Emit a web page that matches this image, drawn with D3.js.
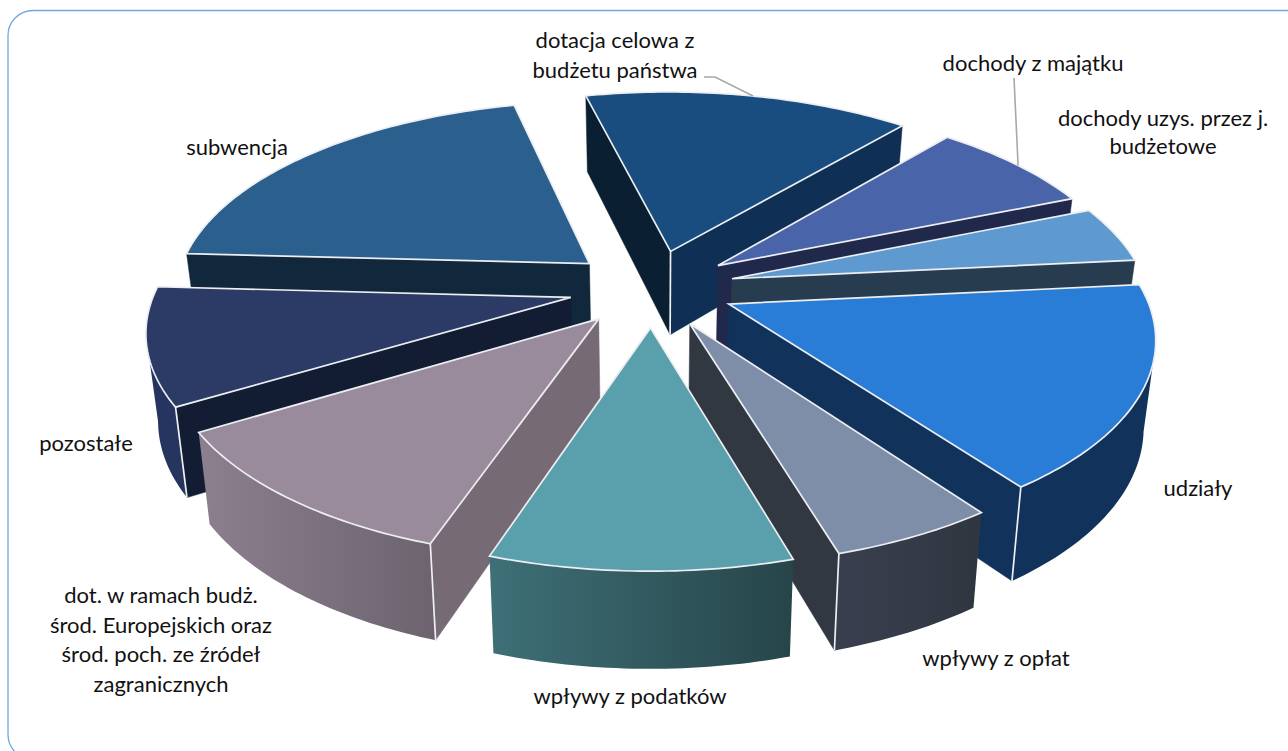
<!DOCTYPE html>
<html>
<head>
<meta charset="utf-8">
<script src="https://cdn.jsdelivr.net/npm/d3@7"></script>
<style>
  html, body { margin: 0; padding: 0; background: #fff; overflow: hidden; }
  text { font-family: Lato, "Open Sans", sans-serif; font-size: 22px; fill: #111; text-anchor: middle; }
</style>
</head>
<body>
<svg id="chart" width="1288" height="751"></svg>
<script>
// udział w dochodach, %, clockwise from dotacja
const categories = ['dotacja', 'majatek', 'jednostki', 'udzialy', 'oplaty', 'podatki', 'srodkiUE', 'pozostale', 'subwencja'];
const values = [14.9, 7.7, 4.6, 16.6, 5.4, 9.8, 11.2, 9.5, 20.4];

const labelLines = [
    ['dotacja celowa z', 'budżetu państwa'],
    ['dochody z majątku'],
    ['dochody uzys. przez j.', 'budżetowe'],
    ['udziały'],
    ['wpływy z opłat'],
    ['wpływy z podatków'],
    ['dot. w ramach budż.', 'środ. Europejskich oraz', 'środ. poch. ze źródeł', 'zagranicznych'],
    ['pozostałe'],
    ['subwencja']
];

// styles per slice: top, start wall, end wall, outer wall gradient left/right
const topColors = ['#194c7f', '#4964a8', '#5e9ad0', '#2a7dd6', '#7f8ea8', '#5a9fac', '#9a8b9c', '#2b3b66', '#2a5f8e'];
const startWall = ['#0a2032', '#20284b', '#283c50', '#11325a', '#323842', '#264549', '#766a75', '#121d33', '#11283c'];
const endWall = ['#0f3054', '#20284b', '#283c50', '#11325a', '#323842', '#264549', '#766a75', '#121d33', '#11283c'];
const outerLeft = ['#0f3054', '#20284b', '#283c50', '#11325a', '#3a3f50', '#3e7077', '#8c7f8e', '#25355f', '#11283c'];
const outerRight = ['#0f3054', '#20284b', '#283c50', '#11325a', '#30363f', '#264549', '#6d636f', '#25355f', '#11283c'];

// label anchor (centre x, first baseline y)
const labelX = [615, 1033, 1163, 1198, 996, 630, 161, 86, 237];
const labelY = [48, 71, 126, 496, 666, 704, 603, 451, 155];
const lineGaps = [30, 0, 28, 0, 0, 0, 29.7, 0, 0];

const width = 1288, height = 751;
const cx = 652, cy = 288;
const explode = 0.2, k = 0.15, depth = 85, converge = 0.024;

const svg = d3.select('#chart');

const xScale = d3.scaleLinear().domain([-1, 1]).range([cx - 415, cx + 415]);
const yScale = d3.scaleLinear().domain([-1, 1]).range([cy - 193.5, cy + 193.5]);

// perspective projection of the pie plane, u to the right, v towards the viewer
function project(u, v) {
    const w = 1 - k * v;
    return [xScale(u / w), yScale(v / w), w];
}
function topPoint(slice, r, a) {
    const mid = (slice.startAngle + slice.endAngle) / 2;
    const u = explode * Math.sin(mid) + r * Math.sin(a);
    const v = -explode * Math.cos(mid) - r * Math.cos(a);
    return project(u, v);
}
function bottom(p) {
    return [cx + (p[0] - cx) * (1 - converge), p[1] + depth / Math.pow(p[2], 0.7)];
}

const pie = d3.pie().value(d => d).sort(null)
    .startAngle(-13.5 * Math.PI / 180)
    .endAngle((360 - 13.5) * Math.PI / 180);
const slices = pie(values);

const line = d3.line();
const ring = d3.line().curve(d3.curveLinearClosed);

const defs = svg.append('defs');
slices.forEach((s, i) => {
    const g = defs.append('linearGradient').attr('id', 'outer' + i);
    g.append('stop').attr('offset', '0%').attr('stop-color', outerLeft[i]);
    g.append('stop').attr('offset', '100%').attr('stop-color', outerRight[i]);
});

// frame runs past the window on the right and the bottom
svg.append('rect')
    .attr('x', 8).attr('y', 10.5)
    .attr('width', 1330).attr('height', 749)
    .attr('rx', 25).attr('ry', 25)
    .attr('fill', '#fff').attr('stroke', '#6fa8e0').attr('stroke-width', 1.3);

const layers = svg.append('g');

// outward normal of edge a-b points down on the screen => the wall under it shows
function facesViewer(a, b, inner) {
    let nx = -(b[1] - a[1]), ny = b[0] - a[0];
    if (nx * (inner[0] - a[0]) + ny * (inner[1] - a[1]) > 0) { ny = -ny; }
    return ny > 0;
}

function drawSlice(s, i) {
    const g = layers.append('g').attr('class', 'slice-' + categories[i]);
    const apex = topPoint(s, 0, 0);
    const steps = Math.ceil((s.endAngle - s.startAngle) * 180 / Math.PI);
    const arc = d3.range(steps + 1).map(j => topPoint(s, 1, s.startAngle + (s.endAngle - s.startAngle) * j / steps));
    const first = arc[0], last = arc[arc.length - 1];
    const startVisible = facesViewer(apex, first, last);
    const endVisible = facesViewer(apex, last, first);

    const wall = (a, b, color) => g.append('path')
        .attr('d', ring([a, b, bottom(b), bottom(a)]))
        .attr('fill', color).attr('stroke', color).attr('stroke-width', 0.5);

    if (startVisible) wall(apex, first, startWall[i]);
    if (endVisible) wall(apex, last, endWall[i]);

    // outer wall, only the part of the rim turned to the viewer
    const rim = arc.filter((p, j) => {
        const q = arc[Math.min(j + 1, arc.length - 1)], o = arc[Math.max(j - 1, 0)];
        return facesViewer(o, q, apex);
    });
    if (rim.length > 1) {
        g.append('path')
            .attr('d', ring(rim.concat(rim.map(bottom).reverse())))
            .attr('fill', `url(#outer${i})`);
    }

    // vertical edges where two visible walls meet
    const edge = p => g.append('path').attr('d', line([p, bottom(p)]))
        .attr('stroke', '#eef0f3').attr('stroke-width', 1.7).attr('fill', 'none');
    if (startVisible && endVisible) edge(apex);
    if (startVisible && rim.length > 1 && rim[0] === first) edge(first);
    if (endVisible && rim.length > 1 && rim[rim.length - 1] === last) edge(last);

    g.append('path')
        .attr('d', ring([apex].concat(arc)))
        .attr('fill', topColors[i])
        .attr('stroke', '#eceef2').attr('stroke-width', 1.7).attr('stroke-linejoin', 'miter');
}

// painter's order: far apexes first
slices
    .map((s, i) => ({ s, i, y: topPoint(s, 0, 0)[1] + topPoint(s, 0.6, (s.startAngle + s.endAngle) / 2)[1] }))
    .sort((a, b) => a.y - b.y)
    .forEach(d => drawSlice(d.s, d.i));

// leader lines
function leader(i, r, a, pts) {
    const p = topPoint(slices[i], r, a * Math.PI / 180);
    svg.append('path').attr('d', line(pts.concat([p.slice(0, 2)])))
        .attr('fill', 'none').attr('stroke', '#a8a8a8').attr('stroke-width', 1.6);
}
leader(0, 1, 13.9, [[704, 77], [715, 77]]);
leader(1, 1, 54.4, [[1014, 78]]);

labelLines.forEach((lines, i) => {
    lines.forEach((t, j) => {
        svg.append('text').attr('x', labelX[i]).attr('y', labelY[i] + j * lineGaps[i]).text(t);
    });
});
</script>
</body>
</html>
